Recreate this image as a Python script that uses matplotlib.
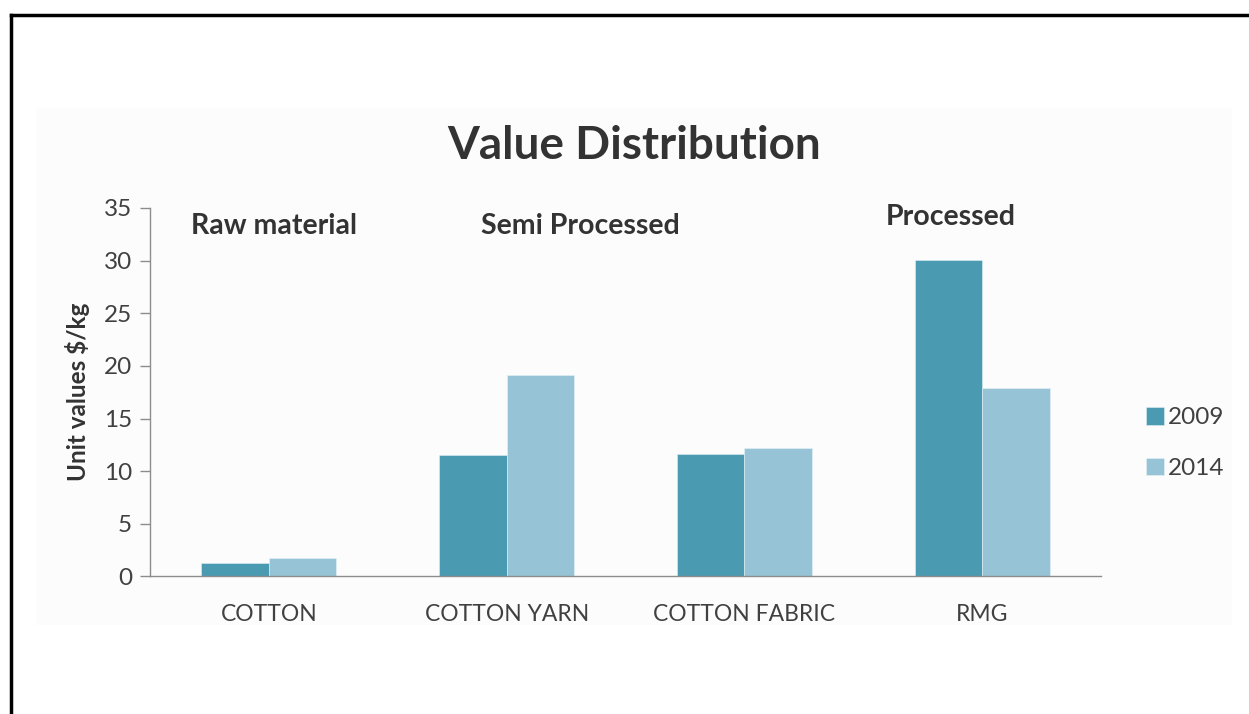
import numpy as np
import matplotlib.pyplot as plt
from matplotlib.patches import Rectangle
from matplotlib.lines import Line2D

# Data
categories = ['COTTON', 'COTTON YARN', 'COTTON FABRIC', 'RMG']
values_2009 = [1.3, 11.5, 11.6, 30.1]
values_2014 = [1.8, 19.1, 12.2, 17.9]
series_labels = ['2009', '2014']
group_labels = ['Raw material', 'Semi Processed', 'Processed']
yticks = [0, 5, 10, 15, 20, 25, 30, 35]

plt.rcParams['font.family'] = ['Lato', 'DejaVu Sans']

color_2009 = '#4a9bb2'
color_2014 = '#96c4d6'
text_color = '#404040'

fig = plt.figure(figsize=(12.49, 7.14), dpi=100)
fig.patch.set_facecolor('white')

# faint chart-area panel and slide border
fig.add_artist(Rectangle((36 / 1249, 1 - 625 / 714), (1232 - 36) / 1249, (625 - 108) / 714,
                         transform=fig.transFigure, facecolor='#fcfcfc', edgecolor='none', zorder=-1))
fig.add_artist(Line2D([11 / 1249, 1], [1 - 15 / 714, 1 - 15 / 714], transform=fig.transFigure,
                      color='black', linewidth=2.5))
fig.add_artist(Line2D([11 / 1249, 11 / 1249], [0, 1 - 15 / 714], transform=fig.transFigure,
                      color='black', linewidth=2.5))

ax = fig.add_axes([0.1201, 0.1926, 0.7614, 0.5161])
ax.set_facecolor('none')

x = np.arange(len(categories))
w = 0.284
ax.bar(x - w / 2, values_2009, width=w, color=color_2009, label=series_labels[0],
       edgecolor='#dfeef3', linewidth=0.4)
ax.bar(x + w / 2, values_2014, width=w, color=color_2014, label=series_labels[1],
       edgecolor='#e6f1f5', linewidth=0.4)

ax.set_xlim(-0.5, len(categories) - 0.5)
ax.set_ylim(0, 35)
ax.set_yticks(yticks)
ax.set_xticks(x)
ax.set_xticklabels(categories)

for s in ['top', 'right']:
    ax.spines[s].set_visible(False)
for s in ['left', 'bottom']:
    ax.spines[s].set_color('#8c8c8c')
    ax.spines[s].set_linewidth(1.0)

ax.tick_params(axis='y', direction='out', length=7, width=1.0, color='#8c8c8c',
               labelsize=17.5, labelcolor=text_color, pad=6)
ax.tick_params(axis='x', length=0, labelsize=16.5, labelcolor=text_color, pad=20)

ax.set_ylabel('Unit values $/kg', fontsize=17.5, fontweight='bold', color='#333333', labelpad=10)

# group annotations
ax.text(0.02, 33.3, group_labels[0], ha='center', va='center', fontsize=20.5,
        fontweight='bold', color='#333333')
ax.text(1.31, 33.3, group_labels[1], ha='center', va='center', fontsize=20.5,
        fontweight='bold', color='#333333')
ax.text(2.87, 34.1, group_labels[2], ha='center', va='center', fontsize=20.5,
        fontweight='bold', color='#333333')

fig.text(634 / 1249, 1 - 146 / 714, 'Value Distribution', ha='center', va='center',
         fontsize=33, fontweight='bold', color='#333333')

leg = ax.legend(loc='center left', bbox_to_anchor=(1124 / 1249, 1 - 443 / 714),
                bbox_transform=fig.transFigure, frameon=False, fontsize=17.5,
                handlelength=0.75, handleheight=0.75, handletextpad=0.15, labelspacing=1.2)
for t in leg.get_texts():
    t.set_color(text_color)

fig.savefig('out.png', dpi=100)
